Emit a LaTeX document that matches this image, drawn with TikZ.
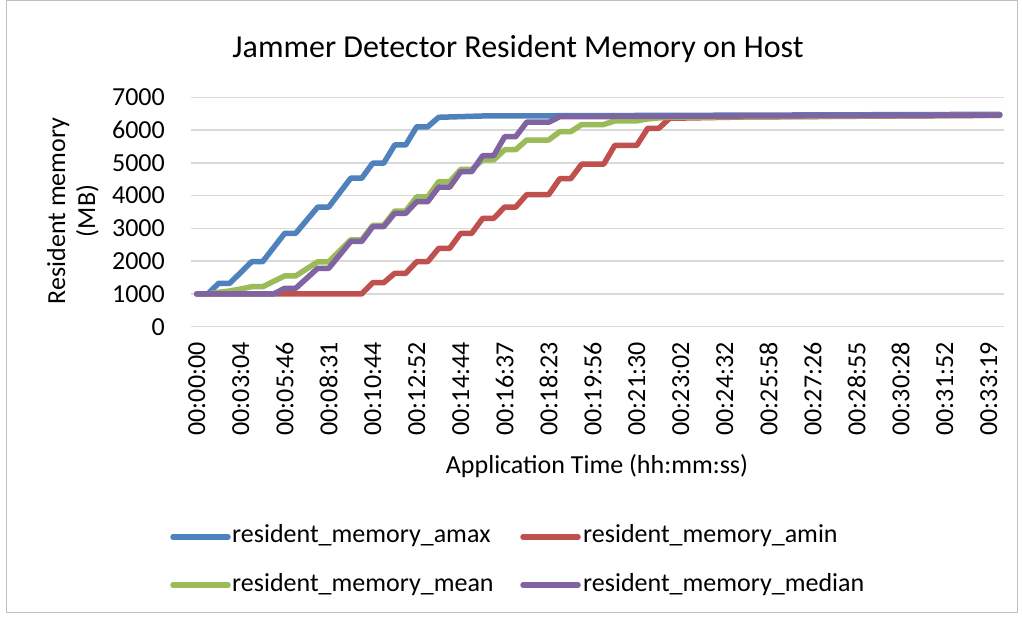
\documentclass[tikz,border=0pt]{standalone}
\usepackage{fontspec}
\setmainfont{Carlito}
\definecolor{sblue}{HTML}{4F81BD}
\definecolor{sred}{HTML}{C0504D}
\definecolor{sgreen}{HTML}{9BBB59}
\definecolor{spurple}{HTML}{8064A2}
\definecolor{gridc}{HTML}{D9D9D9}
\definecolor{framec}{HTML}{BFBFBF}
\begin{document}
\begin{tikzpicture}[x=1pt,y=1pt,
  gridline/.style={draw=gridc, line width=1.5pt},
  series/.style={line width=5.5pt, line join=round, line cap=round},
  lbl/.style={inner sep=0pt, font=\fontsize{26}{30}\selectfont},
  xlab/.style={lbl, rotate=90, anchor=east},
  ylab/.style={lbl, anchor=east}]
\useasboundingbox (0,0) rectangle (1022,618);
\fill[white] (0,0) rectangle (1022,618);
\draw[framec, line width=1pt] (6,5) rectangle (1017,617);
% title
\node[inner sep=0pt, anchor=base, font=\fontsize{32}{38}\selectfont] (title) at (518,560) {Jammer Detector Resident Memory on Host};
% axis titles
\node[lbl, rotate=90, align=center] (ytitle) at (73,407) {Resident memory\\(MB)};
\node[lbl, anchor=base] (xtitle) at (597,144) {Application Time (hh:mm:ss)};
\begin{scope}[shift={(196.7,291.3)}, x=11pt, y=32.77pt]
  \foreach \k in {0,...,7} {
    \draw[gridline] (-0.518,\k) -- (73.39,\k);
    \pgfmathtruncatemacro{\val}{1000*\k}
    \path (0,\k) ++(-31.7pt,0) node[ylab] {\val};
  }
  \foreach \i/\t in {0/00:00:00,4/00:03:04,8/00:05:46,12/00:08:31,16/00:10:44,20/00:12:52,24/00:14:44,28/00:16:37,32/00:18:23,36/00:19:56,40/00:21:30,44/00:23:02,48/00:24:32,52/00:25:58,56/00:27:26,60/00:28:55,64/00:30:28,68/00:31:52,72/00:33:19} {
    \path (\i,0) ++(0,-15.5pt) node[xlab] {\t};
  }
  % amax
  \draw[series, sblue] plot coordinates {(0,1) (1,1) (2,1.324) (3,1.324) (5,1.984) (6,1.984) (8,2.850) (9,2.850) (11,3.650) (12,3.650) (14,4.530) (15,4.530) (16,4.990) (17,4.990) (18,5.545) (19,5.545) (20,6.100) (21,6.100) (22,6.390) (26,6.430) (73,6.480)};
  % amin
  \draw[series, sred] plot coordinates {(0,1) (15,1) (16,1.343) (17,1.343) (18,1.628) (19,1.628) (20,1.984) (21,1.984) (22,2.391) (23,2.391) (24,2.850) (25,2.850) (26,3.308) (27,3.308) (28,3.650) (29,3.650) (30,4.030) (32,4.030) (33,4.515) (34,4.515) (35,4.960) (37,4.960) (38,5.530) (40,5.530) (41,6.053) (42,6.053) (43,6.360) (50,6.400) (73,6.450)};
  % mean
  \draw[series, sgreen] plot coordinates {(0,1) (1,1) (2,1.05) (3,1.09) (4,1.15) (5,1.22) (6,1.22) (8,1.55) (9,1.55) (11,1.98) (12,1.98) (14,2.65) (15,2.65) (16,3.09) (17,3.09) (18,3.53) (19,3.53) (20,3.96) (21,3.96) (22,4.425) (23,4.425) (24,4.80) (25,4.80) (26,5.087) (27,5.087) (28,5.40) (29,5.40) (30,5.697) (32,5.697) (33,5.95) (34,5.95) (35,6.17) (37,6.17) (38,6.28) (40,6.28) (41,6.34) (42,6.37) (43,6.39) (73,6.455)};
  % median
  \draw[series, spurple] plot coordinates {(0,1) (7,1) (8,1.172) (9,1.172) (11,1.781) (12,1.781) (14,2.60) (15,2.60) (16,3.052) (17,3.052) (18,3.46) (19,3.46) (20,3.815) (21,3.815) (22,4.26) (23,4.26) (24,4.73) (25,4.73) (26,5.22) (27,5.22) (28,5.798) (29,5.798) (30,6.24) (32,6.24) (33,6.408) (73,6.46)};
\end{scope}
% legend
\draw[series, sblue] (173,81) -- (228,81);
\node[lbl, anchor=base west] (l1) at (232,75) {resident\_memory\_amax};
\draw[series, sred] (523,81) -- (578,81);
\node[lbl, anchor=base west] (l2) at (583,75) {resident\_memory\_amin};
\draw[series, sgreen] (173,33) -- (228,33);
\node[lbl, anchor=base west] (l3) at (232,27) {resident\_memory\_mean};
\draw[series, spurple] (523,33) -- (578,33);
\node[lbl, anchor=base west] (l4) at (583,27) {resident\_memory\_median};
\end{tikzpicture}
\end{document}
